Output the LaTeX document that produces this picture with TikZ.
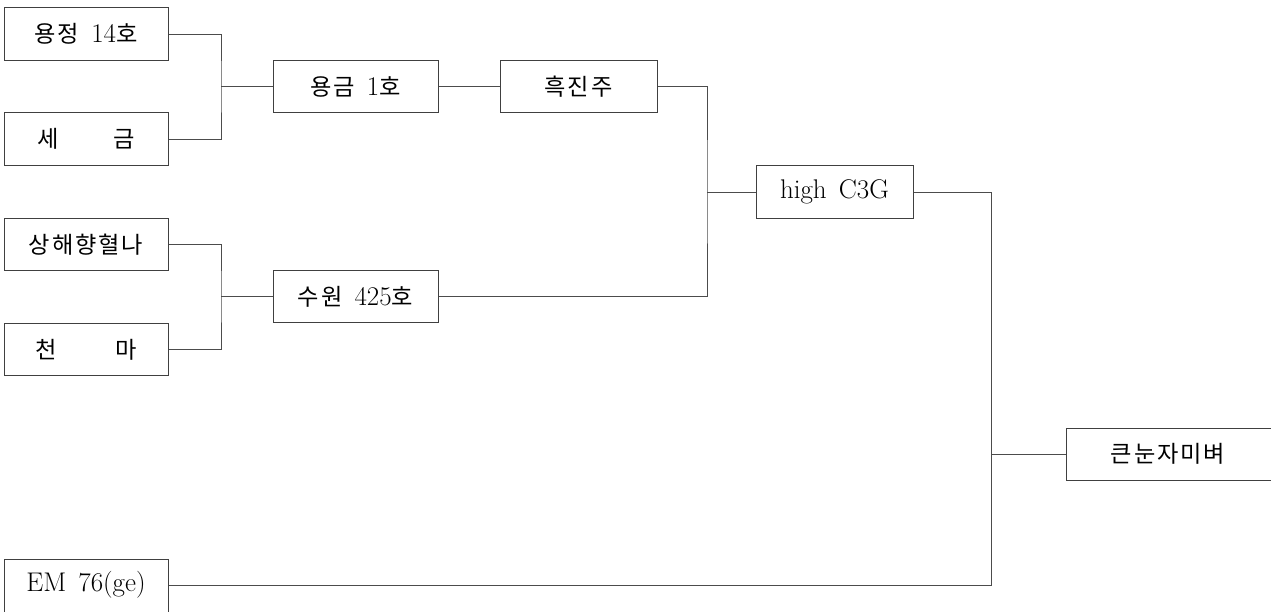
\documentclass[tikz,border=0pt]{standalone}
\usepackage{fontspec}
\newfontfamily\kr{Noto Sans CJK KR}[Scale=0.86,LetterSpace=8]
\newcommand{\gapsp}{\hspace{0.45em}}
\begin{document}
\begin{tikzpicture}[x=1pt,y=-1pt,
  box/.style={draw=black!75, line width=1pt, rectangle, inner sep=0pt, minimum height=52.5pt, font=\fontsize{27}{31}\selectfont},
  lbl/.style={font=\fontsize{27}{31}\selectfont, inner sep=0pt},
  link/.style={draw=black!70, line width=1pt}]
\useasboundingbox (0,0) rectangle (1271,611);
\clip (0,0) rectangle (1271,611);
\node[box, minimum width=164pt] (a) at (86,34) {{\kr 용정}\gapsp 14{\kr 호}};
\node[box, minimum width=164pt] (b) at (86,139) {\makebox[98pt]{\kr 세\hfill 금}};
\node[box, minimum width=165pt] (c) at (355.5,86.5) {{\kr 용금}\gapsp 1{\kr 호}};
\node[box, minimum width=157pt] (d) at (578.5,86.5) {\kr 흑진주};
\node[box, minimum width=164pt] (e) at (86,244.5) {\kr 상해향혈나};
\node[box, minimum width=164pt] (f) at (86,349.5) {\makebox[102pt]{\kr 천\hfill 마}};
\node[box, minimum width=165pt] (g) at (355.5,296.5) {{\kr 수원}\gapsp 425{\kr 호}};
\node[box, minimum width=157pt] (h) at (834.5,192) {high\gapsp C3G};
\node[box, minimum width=210pt, minimum height=52pt] (i) at (1171,454) {};
\node[lbl] (it) at (1168,454) {\kr 큰눈자미벼};
\node[box, minimum width=164pt, minimum height=56pt] (j) at (86,587) {};
\node[lbl] (jt) at (86,585) {EM\gapsp 76(ge)};
\coordinate (ab) at (221,86.5);
\coordinate (ef) at (221,296.5);
\coordinate (dg) at (707,192);
\coordinate (hj) at (991,454);
\draw[link] (a.east) -| (ab) |- (b.east);
\draw[link] (ab) -- (c.west);
\draw[link] (c.east) -- (d.west);
\draw[link] (e.east) -| (ef) |- (f.east);
\draw[link] (ef) -- (g.west);
\draw[link] (d.east) -| (dg) |- (g.east);
\draw[link] (dg) -- (h.west);
\draw[link] (h.east) -| (hj) |- (j.east |- jt);
\draw[link] (hj) -- (i.west);
\end{tikzpicture}
\end{document}
